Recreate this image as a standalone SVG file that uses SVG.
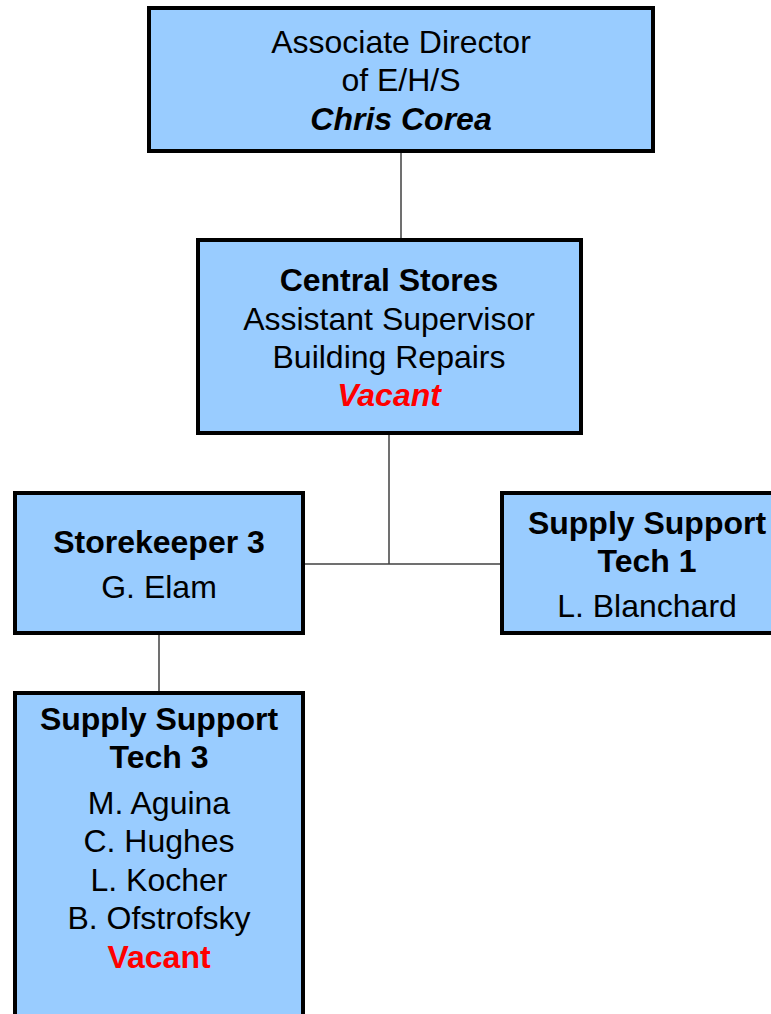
<svg xmlns="http://www.w3.org/2000/svg" width="771" height="1014" viewBox="0 0 771 1014">
<style>
.box{fill:#99CCFF;stroke:#000;stroke-width:4}
.t{font-family:"Liberation Sans",Arial,sans-serif;font-size:32px;fill:#000;text-anchor:middle}
.b{font-weight:bold}
.i{font-style:italic}
.red{fill:#FF0000}
.c{stroke:#404040;stroke-width:1.5;fill:none}
</style>
<rect width="771" height="1014" fill="#fff"/>
<g id="connectors">
<line class="c" x1="401" y1="151" x2="401" y2="240"/>
<line class="c" x1="389" y1="433" x2="389" y2="564"/>
<line class="c" x1="303" y1="564" x2="502" y2="564"/>
<line class="c" x1="159" y1="633" x2="159" y2="693"/>
</g>
<g id="director">
<rect class="box" x="149" y="8" width="504" height="143"/>
<text class="t" x="401" y="53">Associate Director</text>
<text class="t" x="401" y="91">of E/H/S</text>
<text class="t b i" x="401" y="130">Chris Corea</text>
</g>
<g id="central">
<rect class="box" x="198" y="240" width="383" height="193"/>
<text class="t b" x="389" y="291">Central Stores</text>
<text class="t" x="389" y="330">Assistant Supervisor</text>
<text class="t" x="389" y="368">Building Repairs</text>
<text class="t b i red" x="389" y="406">Vacant</text>
</g>
<g id="storekeeper">
<rect class="box" x="15" y="493" width="288" height="140"/>
<text class="t b" x="159" y="553">Storekeeper 3</text>
<text class="t" x="159" y="598">G. Elam</text>
</g>
<g id="tech1">
<rect class="box" x="502" y="493" width="290" height="140"/>
<text class="t b" x="647" y="534">Supply Support</text>
<text class="t b" x="647" y="572">Tech 1</text>
<text class="t" x="647" y="617">L. Blanchard</text>
</g>
<g id="tech3">
<rect class="box" x="15" y="693" width="288" height="340"/>
<text class="t b" x="159" y="730">Supply Support</text>
<text class="t b" x="159" y="768">Tech 3</text>
<text class="t" x="159" y="814">M. Aguina</text>
<text class="t" x="159" y="852">C. Hughes</text>
<text class="t" x="159" y="891">L. Kocher</text>
<text class="t" x="159" y="929">B. Ofstrofsky</text>
<text class="t b red" x="159" y="968">Vacant</text>
</g>
</svg>
